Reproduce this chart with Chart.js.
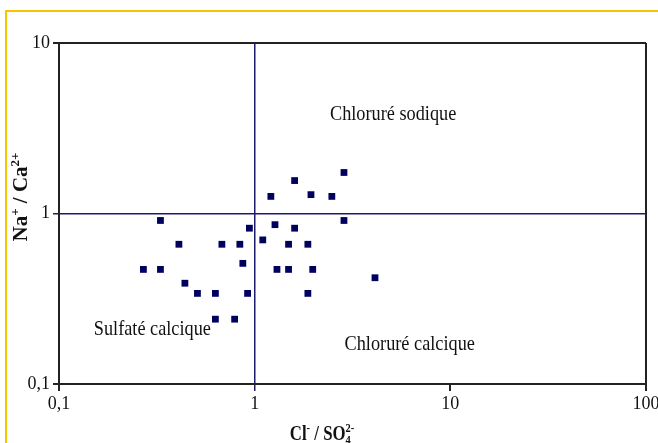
<!DOCTYPE html>
<html>
<head>
<meta charset="utf-8">
<script src="https://cdn.jsdelivr.net/npm/chart.js@4"></script>
<style>
  html, body { margin: 0; padding: 0; background: #fff; }
  canvas { display: block; }
</style>
</head>
<body>
<canvas id="chart" width="658" height="443"></canvas>
<script>
// Cl- / SO4 2- ratio of each sample (x)
const ratioClSO4 = [2.86, 1.60, 1.21, 1.94, 2.48, 0.33, 2.86, 0.94, 1.27, 1.60,
  1.10, 0.41, 0.68, 0.84, 1.49, 1.87, 0.87, 0.27, 0.33, 1.30,
  1.49, 1.98, 4.12, 0.44, 0.51, 0.63, 0.92, 1.87, 0.63, 0.79];
// Na+ / Ca2+ ratio of each sample (y)
const ratioNaCa = [1.74, 1.56, 1.26, 1.29, 1.26, 0.91, 0.91, 0.82, 0.86, 0.82,
  0.70, 0.66, 0.66, 0.66, 0.66, 0.66, 0.51, 0.47, 0.47, 0.47,
  0.47, 0.47, 0.42, 0.39, 0.34, 0.34, 0.34, 0.34, 0.24, 0.24];

const xTicks = [0.1, 1, 10, 100];
const yTicks = [0.1, 1, 10];

// quadrant labels, placed in data coordinates
const zoneNames = ["Chloruré sodique", "Sulfaté calcique", "Chloruré calcique"];
const zoneX = [5.1, 0.30, 6.2];
const zoneY = [3.8, 0.21, 0.17];

const NAVY = "#1c1c6e";
const AXIS = "#222";
const SERIF = '"Liberation Serif", "Times New Roman", serif';

const points = ratioClSO4.map((x, i) => ({ x: x, y: ratioNaCa[i] }));

const fmt = (v) => String(v).replace(".", ",");

// draws text with superscript / subscript pieces, centred on 0
function drawRich(ctx, parts, size, bold) {
  const weight = bold ? "bold " : "";
  let total = 0;
  parts.forEach((p) => {
    const s = p.sup || p.sub ? size * 0.62 : size;
    ctx.font = weight + s + "px " + SERIF;
    p.w = ctx.measureText(p.t).width;
    if (!p.stay) total += p.w;
  });
  let x = -total / 2;
  parts.forEach((p) => {
    const s = p.sup || p.sub ? size * 0.62 : size;
    ctx.font = weight + s + "px " + SERIF;
    let dy = 0;
    if (p.sup) dy = -size * 0.38;
    if (p.sub) dy = size * 0.18;
    ctx.fillText(p.t, x, dy);
    if (!p.stay) x += p.w;
  });
}

const extras = {
  id: "extras",
  beforeDraw(chart) {
    const ctx = chart.ctx;
    ctx.save();
    ctx.fillStyle = "#fff";
    ctx.fillRect(0, 0, chart.width, chart.height);
    // yellow frame
    ctx.strokeStyle = "#f6c400";
    ctx.lineWidth = 2;
    ctx.beginPath();
    ctx.moveTo(6, chart.height);
    ctx.lineTo(6, 11);
    ctx.lineTo(chart.width, 11);
    ctx.stroke();
    ctx.restore();
  },
  afterDraw(chart) {
    const ctx = chart.ctx;
    const xs = chart.scales.x;
    const ys = chart.scales.y;
    ctx.save();
    ctx.fillStyle = "#111";
    ctx.textAlign = "left";
    ctx.textBaseline = "middle";
    zoneNames.forEach((name, i) => {
      ctx.save();
      ctx.translate(xs.getPixelForValue(zoneX[i]), ys.getPixelForValue(zoneY[i]));
      ctx.scale(0.83, 1);
      drawRich(ctx, [{ t: name }], 22, false);
      ctx.restore();
    });

    // axis titles
    ctx.textBaseline = "alphabetic";
    ctx.save();
    ctx.translate(322, 440);
    ctx.scale(0.8, 1);
    drawRich(ctx, [
      { t: "Cl" }, { t: "-", sup: true }, { t: " / SO" },
      { t: "4", sub: true, stay: true }, { t: "2-", sup: true }
    ], 21, true);
    ctx.restore();

    ctx.save();
    ctx.translate(27, 197);
    ctx.rotate(-Math.PI / 2);
    drawRich(ctx, [
      { t: "Na" }, { t: "+", sup: true }, { t: " / Ca" }, { t: "2+", sup: true }
    ], 21, true);
    ctx.restore();
    ctx.restore();
  }
};

new Chart(document.getElementById("chart"), {
  type: "scatter",
  data: {
    datasets: [{
      data: points,
      pointStyle: "rect",
      pointRadius: 4.8,
      pointHoverRadius: 4.8,
      backgroundColor: "#00005e",
      borderColor: "#00005e",
      borderWidth: 0
    }]
  },
  options: {
    responsive: false,
    animation: false,
    layout: { padding: { top: 43, right: 12, left: 0, bottom: 0 } },
    plugins: { legend: { display: false }, tooltip: { enabled: false } },
    scales: {
      x: {
        type: "logarithmic",
        min: 0.1,
        max: 100,
        afterBuildTicks: (scale) => { scale.ticks = xTicks.map((v) => ({ value: v })); },
        afterFit: (scale) => { scale.height = 59; scale.paddingRight = 0; scale.paddingLeft = 0; },
        border: { display: true, color: AXIS, width: 2 },
        grid: {
          color: (c) => c.tick.value === 1 ? NAVY : (c.tick.value === 100 ? AXIS : "rgba(0,0,0,0)"),
          tickColor: (c) => c.tick.value === 1 ? NAVY : AXIS,
          lineWidth: (c) => c.tick.value === 1 ? 1.5 : 2,
          tickLength: 7
        },
        ticks: {
          autoSkip: false,
          maxRotation: 0,
          padding: 2,
          color: "#111",
          font: { family: SERIF, size: 18 },
          callback: (v) => fmt(v)
        }
      },
      y: {
        type: "logarithmic",
        min: 0.1,
        max: 10,
        afterBuildTicks: (scale) => { scale.ticks = yTicks.map((v) => ({ value: v })); },
        afterFit: (scale) => { scale.width = 59; },
        border: { display: true, color: AXIS, width: 2 },
        grid: {
          color: (c) => c.tick.value === 1 ? NAVY : (c.tick.value === 10 ? AXIS : "rgba(0,0,0,0)"),
          tickColor: (c) => c.tick.value === 1 ? NAVY : AXIS,
          lineWidth: (c) => c.tick.value === 1 ? 1.5 : 2,
          tickLength: 6
        },
        ticks: {
          autoSkip: false,
          padding: 3,
          color: "#111",
          font: { family: SERIF, size: 18 },
          callback: (v) => fmt(v)
        }
      }
    }
  },
  plugins: [extras]
});
</script>
</body>
</html>
